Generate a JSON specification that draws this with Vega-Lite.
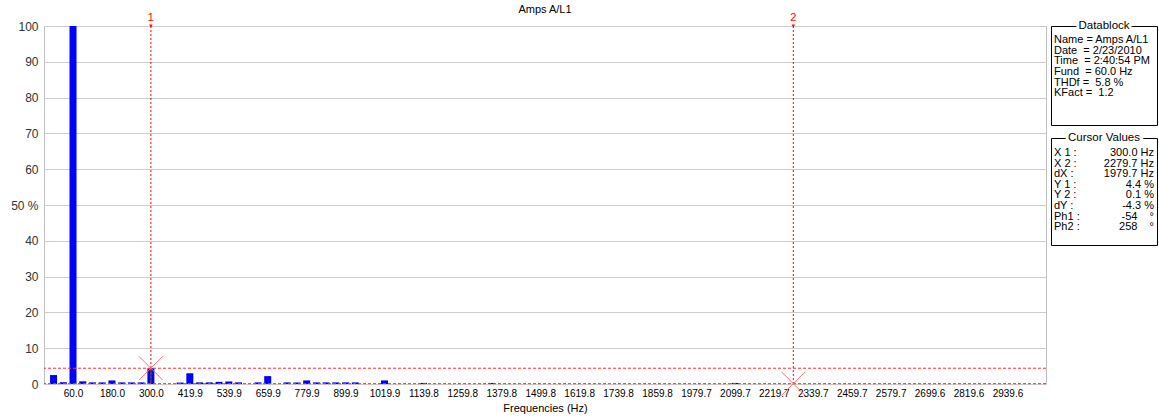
{
  "$schema": "https://vega.github.io/schema/vega-lite/v6.json",
  "padding": {"left": 10, "top": 3, "right": 1, "bottom": 2},
  "config": {"font": "Liberation Sans", "view": {"stroke": "#c0c0c0"}},
  "datasets": {
    "bars": [
      {"f": 0, "v": 2.5}, {"f": 30, "v": 0.5}, {"f": 60, "v": 100}, {"f": 90, "v": 0.75},
      {"f": 120, "v": 0.45}, {"f": 150, "v": 0.45}, {"f": 180, "v": 1.0}, {"f": 210, "v": 0.45},
      {"f": 240, "v": 0.45}, {"f": 270, "v": 0.45}, {"f": 300, "v": 4.4}, {"f": 390, "v": 0.4},
      {"f": 420, "v": 3.0}, {"f": 450, "v": 0.45}, {"f": 480, "v": 0.45}, {"f": 510, "v": 0.6},
      {"f": 540, "v": 0.7}, {"f": 570, "v": 0.45}, {"f": 630, "v": 0.45}, {"f": 660, "v": 2.2},
      {"f": 720, "v": 0.45}, {"f": 750, "v": 0.45}, {"f": 780, "v": 1.0}, {"f": 810, "v": 0.45},
      {"f": 840, "v": 0.45}, {"f": 870, "v": 0.45}, {"f": 900, "v": 0.45}, {"f": 930, "v": 0.45},
      {"f": 1020, "v": 1.0}, {"f": 1140, "v": 0.3}, {"f": 1350, "v": 0.3}, {"f": 2100, "v": 0.3}
    ],
    "cursors": [
      {"cursor": "1", "f": 300.0, "y": 4.4},
      {"cursor": "2", "f": 2279.7, "y": 0.1}
    ],
    "datablock": [
      {"row": 0, "kind": "title", "text": "Datablock"},
      {"row": 1, "kind": "line", "text": "Name = Amps A/L1"},
      {"row": 2, "kind": "line", "text": "Date\u00a0 = 2/23/2010"},
      {"row": 3, "kind": "line", "text": "Time\u00a0 = 2:40:54 PM"},
      {"row": 4, "kind": "line", "text": "Fund\u00a0 = 60.0 Hz"},
      {"row": 5, "kind": "line", "text": "THDf =\u00a0 5.8 %"},
      {"row": 6, "kind": "line", "text": "KFact =\u00a0 1.2"}
    ],
    "cursorvals": [
      {"row": 0, "kind": "title", "text": "Cursor Values", "value": ""},
      {"row": 1, "kind": "line", "text": "X 1 :", "value": "300.0 Hz"},
      {"row": 2, "kind": "line", "text": "X 2 :", "value": "2279.7 Hz"},
      {"row": 3, "kind": "line", "text": "dX :", "value": "1979.7 Hz"},
      {"row": 4, "kind": "line", "text": "Y 1 :", "value": "4.4 %"},
      {"row": 5, "kind": "line", "text": "Y 2 :", "value": "0.1 %"},
      {"row": 6, "kind": "line", "text": "dY :", "value": "-4.3 %"},
      {"row": 7, "kind": "line", "text": "Ph1 :", "value": "-54\u00a0\u00a0\u00a0\u00a0°\u00a0\u00a0\u00a0\u00a0\u00a0\u00a0\u00a0"},
      {"row": 8, "kind": "line", "text": "Ph2 :", "value": "258\u00a0\u00a0\u00a0\u00a0°\u00a0\u00a0\u00a0\u00a0\u00a0\u00a0\u00a0"}
    ]
  },
  "bounds": "flush",
  "spacing": 5,
  "hconcat": [
    {
      "width": 1002,
      "height": 358,
      "title": {"text": "Amps A/L1", "fontSize": 11, "fontWeight": "normal", "color": "#000000", "offset": -3, "frame": "group", "anchor": "middle"},
      "layer": [
        {
          "data": {"name": "bars"},
          "mark": {"type": "bar", "size": 7, "color": "#0000ff"},
          "encoding": {
            "x": {"field": "f", "type": "quantitative", "title": "Frequencies (Hz)",
              "scale": {"domain": [-14, 3043], "nice": false, "zero": false},
              "axis": {"values": [60, 180, 300, 419.9, 539.9, 659.9, 779.9, 899.9, 1019.9, 1139.8, 1259.8, 1379.8, 1499.8, 1619.8, 1739.8, 1859.8, 1979.7, 2099.7, 2219.7, 2339.7, 2459.7, 2579.7, 2699.6, 2819.6, 2939.6],
                "format": ".1f", "grid": false, "domain": false, "ticks": false, "labelFontSize": 10, "labelColor": "#000000",
                "labelPadding": 4, "labelOverlap": false, "labelFlush": false, "titleFontSize": 11, "titleFontWeight": "normal", "titleColor": "#000000", "titlePadding": 4}},
            "y": {"field": "v", "type": "quantitative", "title": null,
              "scale": {"domain": [0, 100], "nice": false},
              "axis": {"values": [0, 10, 20, 30, 40, 50, 60, 70, 80, 90, 100], "grid": true, "gridColor": "#cccccc", "domain": false, "ticks": false,
                "labelFontSize": 12, "labelColor": "#333333", "labelPadding": 6, "labelOverlap": false,
                "labelExpr": "datum.value == 50 ? '50 %' : datum.label"}}
          }
        },
        {
          "data": {"name": "cursors"},
          "mark": {"type": "rule", "color": "#ff0000", "strokeDash": [2, 2], "strokeWidth": 1},
          "encoding": {"x": {"field": "f", "type": "quantitative", "title": "Frequencies (Hz)"}}
        },
        {
          "data": {"name": "cursors"},
          "mark": {"type": "rule", "color": "#ff3030", "strokeDash": [3, 2], "strokeWidth": 1},
          "encoding": {"y": {"field": "y", "type": "quantitative", "title": null,
            "axis": {"values": [0, 10, 20, 30, 40, 50, 60, 70, 80, 90, 100], "grid": true, "gridColor": "#cccccc", "domain": false, "ticks": false,
                "labelFontSize": 12, "labelColor": "#333333", "labelPadding": 6, "labelOverlap": false,
                "labelExpr": "datum.value == 50 ? '50 %' : datum.label"}}}
        },
        {
          "data": {"name": "cursors"},
          "transform": [{"filter": "datum.cursor == '1'"}],
          "mark": {"type": "rule", "color": "#00c000", "strokeDash": [2, 2], "strokeWidth": 1},
          "encoding": {
            "x": {"field": "f", "type": "quantitative", "title": "Frequencies (Hz)"},
            "y": {"field": "y", "type": "quantitative", "title": null,
              "axis": {"values": [0, 10, 20, 30, 40, 50, 60, 70, 80, 90, 100], "grid": true, "gridColor": "#cccccc", "domain": false, "ticks": false,
                "labelFontSize": 12, "labelColor": "#333333", "labelPadding": 6, "labelOverlap": false,
                "labelExpr": "datum.value == 50 ? '50 %' : datum.label"}},
            "y2": {"datum": 0}
          }
        },
        {
          "data": {"name": "cursors"},
          "mark": {"type": "point", "shape": "M-1,-1L1,1M-1,1L1,-1", "size": 560, "stroke": "#ff7070", "strokeWidth": 1, "filled": false, "opacity": 1},
          "encoding": {
            "x": {"field": "f", "type": "quantitative", "title": "Frequencies (Hz)"},
            "y": {"field": "y", "type": "quantitative", "title": null,
              "axis": {"values": [0, 10, 20, 30, 40, 50, 60, 70, 80, 90, 100], "grid": true, "gridColor": "#cccccc", "domain": false, "ticks": false,
                "labelFontSize": 12, "labelColor": "#333333", "labelPadding": 6, "labelOverlap": false,
                "labelExpr": "datum.value == 50 ? '50 %' : datum.label"}}
          }
        },
        {
          "data": {"name": "cursors"},
          "mark": {"type": "point", "shape": "triangle-down", "size": 12, "filled": true, "color": "#ff0000", "opacity": 1},
          "encoding": {
            "x": {"field": "f", "type": "quantitative", "title": "Frequencies (Hz)"},
            "y": {"datum": 100, "type": "quantitative", "title": null,
              "axis": {"values": [0, 10, 20, 30, 40, 50, 60, 70, 80, 90, 100], "grid": true, "gridColor": "#cccccc", "domain": false, "ticks": false,
                "labelFontSize": 12, "labelColor": "#333333", "labelPadding": 6, "labelOverlap": false,
                "labelExpr": "datum.value == 50 ? '50 %' : datum.label"}}
          }
        },
        {
          "data": {"name": "cursors"},
          "mark": {"type": "text", "color": "#ff0000", "fontSize": 11, "dy": -8, "baseline": "middle"},
          "encoding": {
            "x": {"field": "f", "type": "quantitative", "title": "Frequencies (Hz)"},
            "y": {"datum": 100, "type": "quantitative", "title": null,
              "axis": {"values": [0, 10, 20, 30, 40, 50, 60, 70, 80, 90, 100], "grid": true, "gridColor": "#cccccc", "domain": false, "ticks": false,
                "labelFontSize": 12, "labelColor": "#333333", "labelPadding": 6, "labelOverlap": false,
                "labelExpr": "datum.value == 50 ? '50 %' : datum.label"}},
            "text": {"field": "cursor"}
          }
        }
      ]
    },
    {
      "bounds": "flush",
      "spacing": 13,
      "vconcat": [
        {
          "width": 106,
          "height": 99,
          "view": {"stroke": "#000000", "strokeWidth": 1},
          "data": {"name": "datablock"},
          "encoding": {
            "y": {"field": "row", "type": "quantitative", "axis": null, "scale": {"domain": [-0.308, 8.945], "reverse": true, "nice": false, "zero": false}},
            "text": {"field": "text"}
          },
          "layer": [
            {
              "transform": [{"filter": "datum.kind == 'title'"}],
              "mark": {"type": "text", "align": "center", "baseline": "middle", "fontSize": 11.5, "dy": -3.3, "color": "#ffffff", "stroke": "#ffffff", "strokeWidth": 6},
              "encoding": {"x": {"datum": 0.5, "type": "quantitative", "axis": null, "scale": {"domain": [0, 1]}}}
            },
            {
              "transform": [{"filter": "datum.kind == 'title'"}],
              "mark": {"type": "text", "align": "center", "baseline": "middle", "fontSize": 11.5, "dy": -3.3, "color": "#000000"},
              "encoding": {"x": {"datum": 0.5, "type": "quantitative", "axis": null, "scale": {"domain": [0, 1]}}}
            },
            {
              "transform": [{"filter": "datum.kind == 'line'"}],
              "mark": {"type": "text", "align": "left", "baseline": "middle", "fontSize": 11, "dx": 3, "color": "#000000"},
              "encoding": {"x": {"datum": 0, "type": "quantitative", "axis": null, "scale": {"domain": [0, 1]}}}
            }
          ]
        },
        {
          "width": 106,
          "height": 107,
          "view": {"stroke": "#000000", "strokeWidth": 1},
          "data": {"name": "cursorvals"},
          "encoding": {
            "y": {"field": "row", "type": "quantitative", "axis": null, "scale": {"domain": [-0.415, 9.68], "reverse": true, "nice": false, "zero": false}}
          },
          "layer": [
            {
              "transform": [{"filter": "datum.kind == 'title'"}],
              "mark": {"type": "text", "align": "center", "baseline": "middle", "fontSize": 11.5, "dy": -4.4, "color": "#ffffff", "stroke": "#ffffff", "strokeWidth": 6},
              "encoding": {"x": {"datum": 0.5, "type": "quantitative", "axis": null, "scale": {"domain": [0, 1]}}, "text": {"field": "text"}}
            },
            {
              "transform": [{"filter": "datum.kind == 'title'"}],
              "mark": {"type": "text", "align": "center", "baseline": "middle", "fontSize": 11.5, "dy": -4.4, "color": "#000000"},
              "encoding": {"x": {"datum": 0.5, "type": "quantitative", "axis": null, "scale": {"domain": [0, 1]}}, "text": {"field": "text"}}
            },
            {
              "transform": [{"filter": "datum.kind == 'line'"}],
              "mark": {"type": "text", "align": "left", "baseline": "middle", "fontSize": 11, "dx": 3, "color": "#000000"},
              "encoding": {"x": {"datum": 0, "type": "quantitative", "axis": null, "scale": {"domain": [0, 1]}}, "text": {"field": "text"}}
            },
            {
              "transform": [{"filter": "datum.kind == 'line'"}],
              "mark": {"type": "text", "align": "right", "baseline": "middle", "fontSize": 11, "dx": -3, "color": "#000000"},
              "encoding": {"x": {"datum": 1, "type": "quantitative", "axis": null, "scale": {"domain": [0, 1]}}, "text": {"field": "value"}}
            }
          ]
        }
      ]
    }
  ]
}
